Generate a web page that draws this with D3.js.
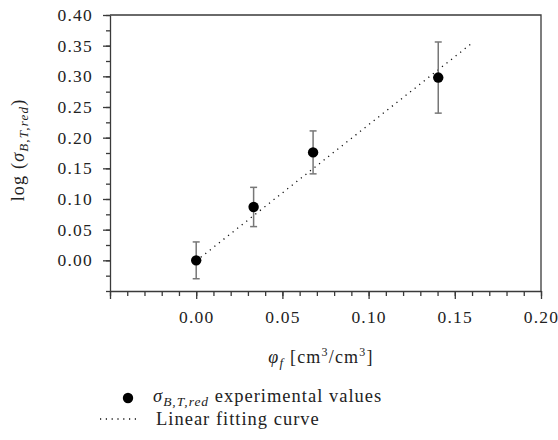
<!DOCTYPE html>
<html>
<head>
<meta charset="utf-8">
<script src="https://cdn.jsdelivr.net/npm/d3@7"></script>
<style>
  body { margin: 0; background: #fff; }
  svg { font-family: "Liberation Serif", "DejaVu Serif", serif; }
  .axis path, .axis line { stroke: #3a3a3a; stroke-width: 1.3; }
  .axis text { font-family: "Liberation Serif", serif; font-size: 17.5px; fill: #222; letter-spacing: 1.2px; }
  .lbl { letter-spacing: 1.2px; fill: #222; }
  .leg { letter-spacing: 1px; fill: #222; }
</style>
</head>
<body>
<svg width="558" height="440"></svg>
<script>
const phi = [0, 0.0333, 0.0678, 0.1404];
const logSigma = [0, 0.087, 0.176, 0.298];
const errSigma = [0.030, 0.032, 0.035, 0.058];
const fitX = [0, 0.16];
const fitSlope = 2.22;
const fitIntercept = -0.001;
const xTickLabels = [0, 0.05, 0.10, 0.15, 0.20];
const yTickLabels = [0, 0.05, 0.10, 0.15, 0.20, 0.25, 0.30, 0.35, 0.40];

const svg = d3.select('svg');
const mLeft = 110, mRight = 541, mTop = 15, mBottom = 291;

const x = d3.scaleLinear().domain([-0.05, 0.20]).range([mLeft, mRight]);
const y = d3.scaleLinear().domain([-0.05, 0.40]).range([mBottom, mTop]);

// frame
svg.append('path')
  .attr('d', `M${mLeft},${mTop}H${mRight}V${mBottom}`)
  .attr('fill', 'none')
  .attr('stroke', '#3a3a3a')
  .attr('stroke-width', 1.3);

// minor ticks
const xMinor = d3.range(-50, 201, 10).map(d => d / 1000);
const yMinor = d3.range(-50, 401, 25).map(d => d / 1000);

svg.append('g').attr('class', 'axis')
  .attr('transform', `translate(0,${mBottom})`)
  .call(d3.axisBottom(x).tickValues(xMinor).tickSize(5).tickFormat(''))
  .call(g => g.select('.domain').remove());

svg.append('g').attr('class', 'axis')
  .attr('transform', `translate(${mLeft},0)`)
  .call(d3.axisLeft(y).tickValues(yMinor).tickSize(4).tickFormat(''))
  .call(g => g.select('.domain').remove());

// major ticks
svg.append('g').attr('class', 'axis')
  .attr('transform', `translate(0,${mBottom})`)
  .call(d3.axisBottom(x).tickValues([-0.05].concat(xTickLabels)).tickSize(8).tickSizeOuter(0)
    .tickPadding(11.5)
    .tickFormat(d => d < 0 ? '' : d3.format('.2f')(d)))
  .attr('font-family', null);

svg.append('g').attr('class', 'axis')
  .attr('transform', `translate(${mLeft},0)`)
  .call(d3.axisLeft(y).tickValues(yTickLabels).tickSize(7).tickSizeOuter(0)
    .tickPadding(10)
    .tickFormat(d3.format('.2f')))
  .attr('font-family', null);

// fit line
svg.append('line')
  .attr('x1', x(fitX[0])).attr('y1', y(fitIntercept + fitSlope * fitX[0]))
  .attr('x2', x(fitX[1])).attr('y2', y(fitIntercept + fitSlope * fitX[1]))
  .attr('stroke', '#111')
  .attr('stroke-width', 1.3)
  .attr('stroke-dasharray', '1.2,4.6');

// error bars
const pts = phi.map((p, i) => ({p, v: logSigma[i], e: errSigma[i]}));
const eb = svg.append('g').attr('stroke', '#777').attr('stroke-width', 1.5);
pts.forEach(d => {
  eb.append('line').attr('x1', x(d.p)).attr('x2', x(d.p))
    .attr('y1', y(d.v - d.e)).attr('y2', y(d.v + d.e));
  [d.v - d.e, d.v + d.e].forEach(v => {
    eb.append('line').attr('x1', x(d.p) - 3.5).attr('x2', x(d.p) + 3.5)
      .attr('y1', y(v)).attr('y2', y(v));
  });
});

svg.append('g').selectAll('circle').data(pts).enter().append('circle')
  .attr('cx', d => x(d.p)).attr('cy', d => y(d.v)).attr('r', 5.2)
  .attr('fill', '#000');

// axis labels
const xl = svg.append('text').attr('class', 'lbl')
  .attr('x', 321).attr('y', 363)
  .attr('text-anchor', 'middle')
  .attr('font-size', 18);
xl.append('tspan').attr('font-style', 'italic').text('φ');
xl.append('tspan').attr('font-style', 'italic').attr('font-size', 13).attr('dy', 4).text('f');
xl.append('tspan').attr('dy', -4).text(' [cm');
xl.append('tspan').attr('font-size', 12).attr('dy', -7).text('3');
xl.append('tspan').attr('dy', 7).text('/cm');
xl.append('tspan').attr('font-size', 12).attr('dy', -7).text('3');
xl.append('tspan').attr('dy', 7).text(']');

const yl = svg.append('text').attr('class', 'lbl')
  .attr('transform', 'translate(24,150) rotate(-90)')
  .attr('text-anchor', 'middle')
  .attr('font-size', 18);
yl.append('tspan').text('log (');
yl.append('tspan').attr('font-style', 'italic').text('σ');
yl.append('tspan').attr('font-style', 'italic').attr('font-size', 13).attr('dy', 4).text('B,T,red');
yl.append('tspan').attr('dy', -4).text(')');

// legend
svg.append('circle').attr('cx', 128).attr('cy', 398).attr('r', 5.2).attr('fill', '#000');
const l1 = svg.append('text').attr('class', 'leg').attr('x', 153).attr('y', 402).attr('font-size', 18.5);
l1.append('tspan').attr('font-style', 'italic').text('σ');
l1.append('tspan').attr('font-style', 'italic').attr('font-size', 13.5).attr('dy', 4).text('B,T,red');
l1.append('tspan').attr('dy', -4).text(' experimental values');

svg.append('line').attr('x1', 100).attr('x2', 137).attr('y1', 419).attr('y2', 419)
  .attr('stroke', '#111').attr('stroke-width', 1.3).attr('stroke-dasharray', '1.2,4.6');
svg.append('text').attr('class', 'leg').attr('x', 156).attr('y', 425).attr('font-size', 18.5)
  .text('Linear fitting curve');
</script>
</body>
</html>
